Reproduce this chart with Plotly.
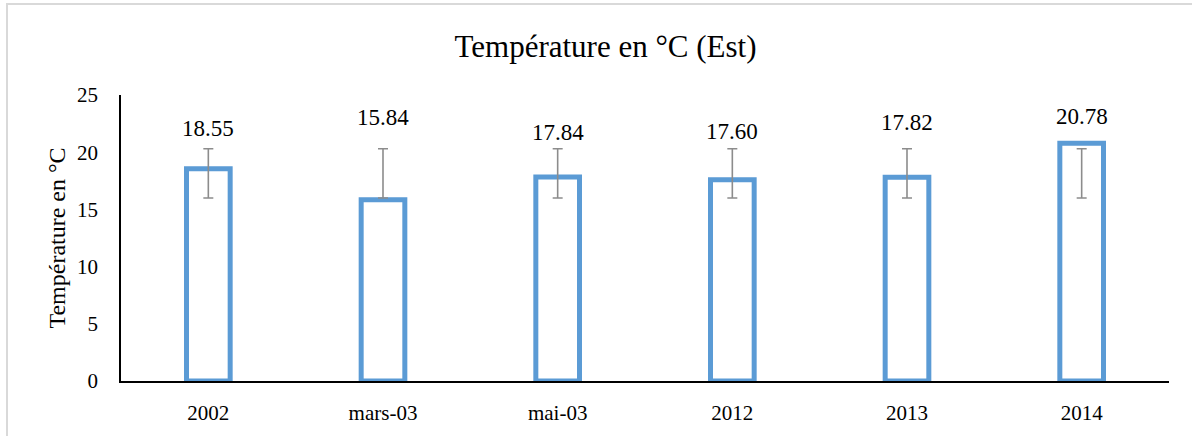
import plotly.graph_objects as go

categories = ["2002", "mars-03", "mai-03", "2012", "2013", "2014"]
values = [18.55, 15.84, 17.84, 17.60, 17.82, 20.78]
err_low = [16.0, 16.0, 16.0, 16.0, 16.0, 16.0]
err_high = [20.3, 20.3, 20.3, 20.3, 20.3, 20.3]
label_y = [22.1, 23.0, 21.7, 21.85, 22.6, 23.1]

FONT = "Liberation Serif, Times New Roman, serif"
BLUE = "#5B9BD5"

idx = list(range(len(categories)))

fig = go.Figure()
fig.add_trace(go.Bar(
    x=idx, y=values, width=0.25,
    marker=dict(color="rgba(255,255,255,0)", line=dict(color=BLUE, width=5)),
    showlegend=False, hovertext=categories, hoverinfo="text+y",
))
mid = [(lo + hi) / 2 for lo, hi in zip(err_low, err_high)]
half = [(hi - lo) / 2 for lo, hi in zip(err_low, err_high)]
fig.add_trace(go.Scatter(
    x=idx, y=mid, mode="markers",
    marker=dict(size=1, color="rgba(0,0,0,0)"),
    error_y=dict(type="data", array=half, symmetric=True,
                 color="#8C8C8C", thickness=1.6, width=5),
    showlegend=False, hoverinfo="skip",
))
for i, v, ly in zip(idx, values, label_y):
    fig.add_annotation(x=i, y=ly, text=f"{v:.2f}", showarrow=False,
                       font=dict(family=FONT, size=23, color="#000000"),
                       yanchor="middle", xanchor="center")

W, H = 1192, 436
ml, mr, mt, mb = 121, 23, 95, 55
pw, ph = W - ml - mr, H - mt - mb
fig.add_shape(type="rect", xref="paper", yref="paper",
              x0=(7 - ml) / pw, x1=(W + 40 - ml) / pw,
              y0=-(mb + 40) / ph, y1=1 + (mt - 4) / ph,
              line=dict(color="#D9D9D9", width=2), fillcolor="rgba(0,0,0,0)",
              layer="below")

fig.update_layout(
    width=W, height=H,
    margin=dict(l=ml, r=mr, t=mt, b=mb, autoexpand=False),
    paper_bgcolor="white", plot_bgcolor="white",
    font=dict(family=FONT, size=21, color="#000000"),
    title=dict(text="Température en °C (Est)", x=0.508, xanchor="center",
               y=1 - 46 / H, yanchor="middle", yref="container",
               font=dict(family=FONT, size=31, color="#000000")),
    xaxis=dict(type="linear", range=[-0.5, len(categories) - 0.5],
               tickmode="array", tickvals=idx, ticktext=categories,
               showline=True, linecolor="#000000", linewidth=2,
               showgrid=False, ticks="", ticklabelstandoff=12, automargin=False,
               tickfont=dict(family=FONT, size=21), zeroline=False),
    yaxis=dict(range=[0, 25], dtick=5, showline=True, linecolor="#000000",
               linewidth=1.5, showgrid=False, ticks="", ticklabelstandoff=17,
               zeroline=False, automargin=False, tickfont=dict(family=FONT, size=21),
               title=dict(text="Température en °C", standoff=5,
                          font=dict(family=FONT, size=24))),
)

fig.write_html("out.html", config={"displayModeBar": False},
               post_script="document.body.style.margin='0';")
